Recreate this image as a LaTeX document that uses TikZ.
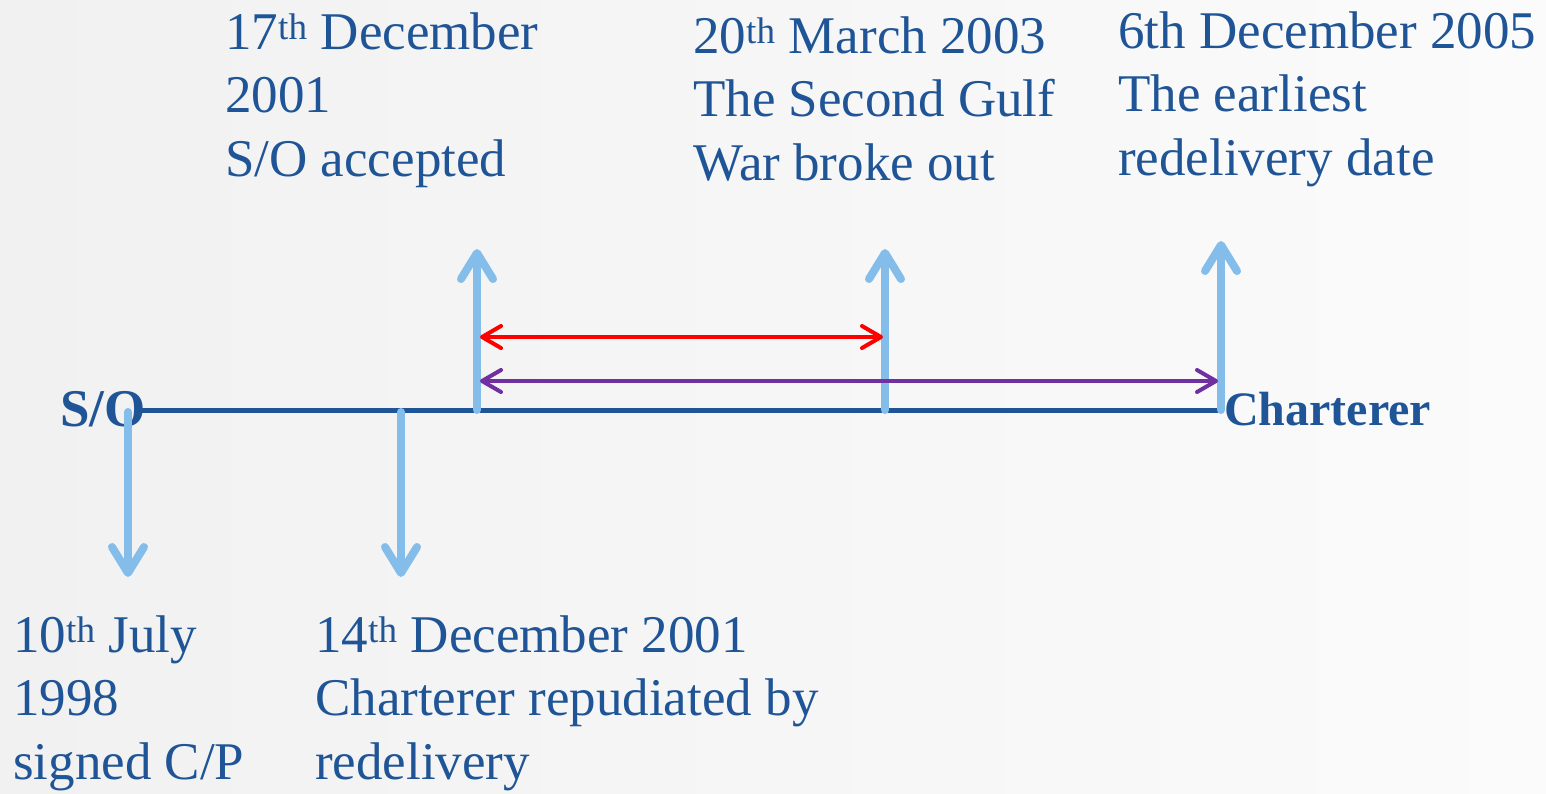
\documentclass[tikz,border=0pt]{standalone}
\usepackage{fontspec}
\setmainfont{Liberation Serif}
\usetikzlibrary{arrows.meta}
\definecolor{txtblue}{HTML}{1F5597}
\definecolor{lineblue}{HTML}{1F5597}
\definecolor{arrblue}{HTML}{85BDEA}
\definecolor{arrpurple}{HTML}{7030A0}
\definecolor{bgleft}{HTML}{F1F1F1}
\definecolor{bgright}{HTML}{FBFBFB}
\tikzset{
  lbl/.style={anchor=base west, align=left, inner sep=0pt, text=txtblue,
    font=\fontsize{53}{63.5}\selectfont},
  endlbl/.style={inner sep=0pt, text=txtblue, font=\fontsize{48}{58}\selectfont\bfseries},
  tick/.style={draw=arrblue, line width=8pt, line cap=round, line join=round,
    -{Straight Barb[length=26pt,width=32pt,round]}},
  span/.style={line width=4pt, line cap=round, line join=round,
    {Straight Barb[length=19pt,width=22pt,round]}-{Straight Barb[length=19pt,width=22pt,round]}},
}
\begin{document}
\begin{tikzpicture}[x=1pt,y=-1pt]
\shade[left color=bgleft, right color=bgright] (0,0) rectangle (1546,793);
\useasboundingbox (0,0) rectangle (1546,793);

% timeline
\node[endlbl, anchor=base east, font=\fontsize{53}{60}\selectfont\bfseries] (so) at (146,426) {S/O};
\node[endlbl, anchor=base west] (ch) at (1224,425) {Charterer};
\coordinate (L) at (142,410);
\coordinate (R) at (1219,410);
\draw[lineblue, line width=5pt] (L) -- (R);

% tick points
\coordinate (a0) at (128,412);  \coordinate (a1) at (128,577);
\coordinate (b0) at (401,412);  \coordinate (b1) at (401,577);
\coordinate (c0) at (477,410);  \coordinate (c1) at (477,249);
\coordinate (d0) at (885,410);  \coordinate (d1) at (885,249);
\coordinate (e0) at (1221,410); \coordinate (e1) at (1221,241);

\draw[tick] (a0) -- (a1);
\draw[tick] (b0) -- (b1);
\draw[tick] (c0) -- (c1);
\draw[tick] (d0) -- (d1);
\draw[tick] (e0) -- (e1);

% spans
\coordinate (r0) at (480,337); \coordinate (r1) at (883,337);
\coordinate (p0) at (480,381); \coordinate (p1) at (1218,381);
\draw[span, red] (r0) -- (r1);
\draw[span, arrpurple] (p0) -- (p1);

% labels (anchored at the baseline of their last line)
\node[lbl] (t1) at (225,176) {17\textsuperscript{th} December\\2001\\S/O accepted};
\node[lbl] (t2) at (693,180) {20\textsuperscript{th} March 2003\\The Second Gulf\\War broke out};
\node[lbl] (t3) at (1118,175) {6th December 2005\\The earliest\\redelivery date};
\node[lbl] (b1l) at (13,779) {10\textsuperscript{th} July\\1998\\signed C/P};
\node[lbl] (b2l) at (315,779) {14\textsuperscript{th} December 2001\\Charterer repudiated by\\redelivery};
\end{tikzpicture}
\end{document}
